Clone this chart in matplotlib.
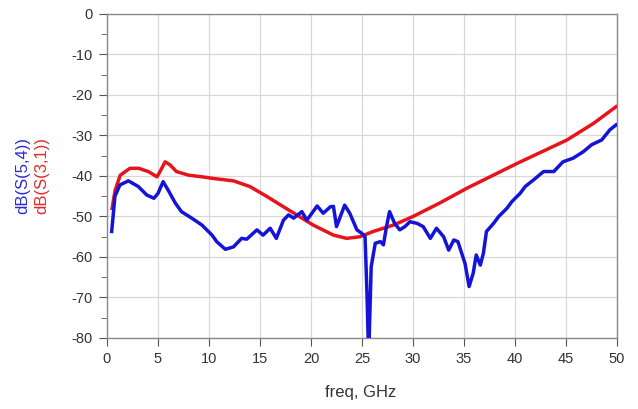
import matplotlib

matplotlib.use('Agg')

import numpy as np
import matplotlib.pyplot as plt

plt.rcParams['font.family'] = ['Liberation Sans', 'DejaVu Sans']
plt.rcParams['axes.unicode_minus'] = False

# dB(S(5,4)) - blue
f_s54 = [0.46, 0.78, 1.27, 2.1, 3.07, 3.9, 4.6, 5.0, 5.5, 6.0, 6.7, 7.3, 8.3, 9.3, 10.3,
         10.75, 11.6, 12.4, 13.2, 13.7, 14.7, 15.3, 16.0, 16.6, 17.3, 17.8, 18.3, 19.1,
         19.6, 20.6, 21.2, 21.9, 22.2, 22.5, 23.3, 23.8, 24.5, 25.0, 25.3, 25.5, 25.65,
         25.9, 26.3, 26.8, 27.1, 27.4, 27.7, 28.2, 28.7, 29.2, 29.7, 30.4, 31.0, 31.7,
         32.3, 33.0, 33.5, 34.0, 34.4, 35.1, 35.5, 35.9, 36.2, 36.6, 36.9, 37.2, 37.9,
         38.4, 39.2, 39.7, 40.5, 41.0, 41.8, 42.8, 43.8, 44.7, 45.7, 46.7, 47.5, 48.5,
         49.3, 49.9]
s54 = [-53.7, -45.0, -42.2, -41.2, -42.6, -44.7, -45.5, -44.3, -41.4, -43.5, -46.7, -48.8,
       -50.4, -52.1, -54.6, -56.2, -58.1, -57.5, -55.4, -55.6, -53.3, -54.6, -52.9, -55.4,
       -50.9, -49.6, -50.4, -48.8, -50.9, -47.4, -49.2, -47.6, -47.5, -52.5, -47.2, -49.2,
       -53.3, -54.2, -55.0, -70.0, -85.0, -62.4, -56.6, -56.2, -57.0, -52.5, -48.8, -51.7,
       -53.3, -52.5, -51.3, -51.7, -52.5, -55.4, -52.9, -55.0, -58.3, -55.8, -56.2, -61.6,
       -67.3, -64.0, -59.5, -62.0, -59.1, -53.7, -51.7, -50.0, -48.0, -46.3, -44.3, -42.6,
       -41.0, -38.9, -38.9, -36.5, -35.6, -34.0, -32.3, -31.1, -28.6, -27.4]

# dB(S(3,1)) - red
f_s31 = [0.5, 0.8, 1.3, 2.25, 3.1, 4.05, 4.9, 5.2, 5.7, 6.2, 6.8, 8.0, 9.3, 10.4, 12.4,
         14.0, 15.7, 17.3, 18.6, 20.2, 22.2, 23.5, 24.8, 26.1, 28.1, 30.0, 32.6, 35.3,
         40.2, 45.1, 47.7, 49.9]
s31 = [-48.0, -43.5, -39.8, -38.1, -38.1, -38.9, -40.2, -38.9, -36.5, -37.3, -38.9, -39.8,
       -40.2, -40.6, -41.2, -42.6, -45.1, -47.6, -49.6, -52.1, -54.6, -55.4, -55.0, -53.7,
       -52.1, -50.0, -46.7, -43.0, -36.9, -31.1, -27.0, -22.9]

fig = plt.figure(figsize=(6.38, 4.09), dpi=100)
ax = fig.add_axes([0.1677, 0.1736, 0.7994, 0.7922])

ax.plot(f_s31, s31, color='#e8141c', lw=2.5, solid_joinstyle='round', zorder=3)
ax.plot(f_s54, s54, color='#1414d8', lw=2.5, solid_joinstyle='round', zorder=4)

ax.set_xlim(0, 50)
ax.set_ylim(-80, 0)
ax.set_xticks(np.arange(0, 51, 5))
ax.set_yticks(np.arange(-80, 1, 10))
ax.set_yticks(np.arange(-75, 0, 10), minor=True)
ax.grid(True, color='#d8d8d8', lw=0.9)
ax.set_axisbelow(True)

for s in ax.spines.values():
    s.set_color('#8a8a8a')
    s.set_linewidth(1.0)
ax.tick_params(axis='both', which='major', direction='out', length=6, color='#555555',
               labelsize=10.5, labelcolor='#333333', pad=4)
ax.tick_params(axis='y', which='minor', direction='out', length=4, color='#555555')

fig.text(0.565, 0.04, 'freq, GHz', ha='center', va='center', fontsize=12, color='#333333')
fig.text(0.036, 0.57, 'dB(S(5,4))', rotation=90, ha='center', va='center',
         fontsize=12, color='#2b2bd6')
fig.text(0.065, 0.57, 'dB(S(3,1))', rotation=90, ha='center', va='center',
         fontsize=12, color='#e02a2a')

plt.savefig('out.png', dpi=100)
